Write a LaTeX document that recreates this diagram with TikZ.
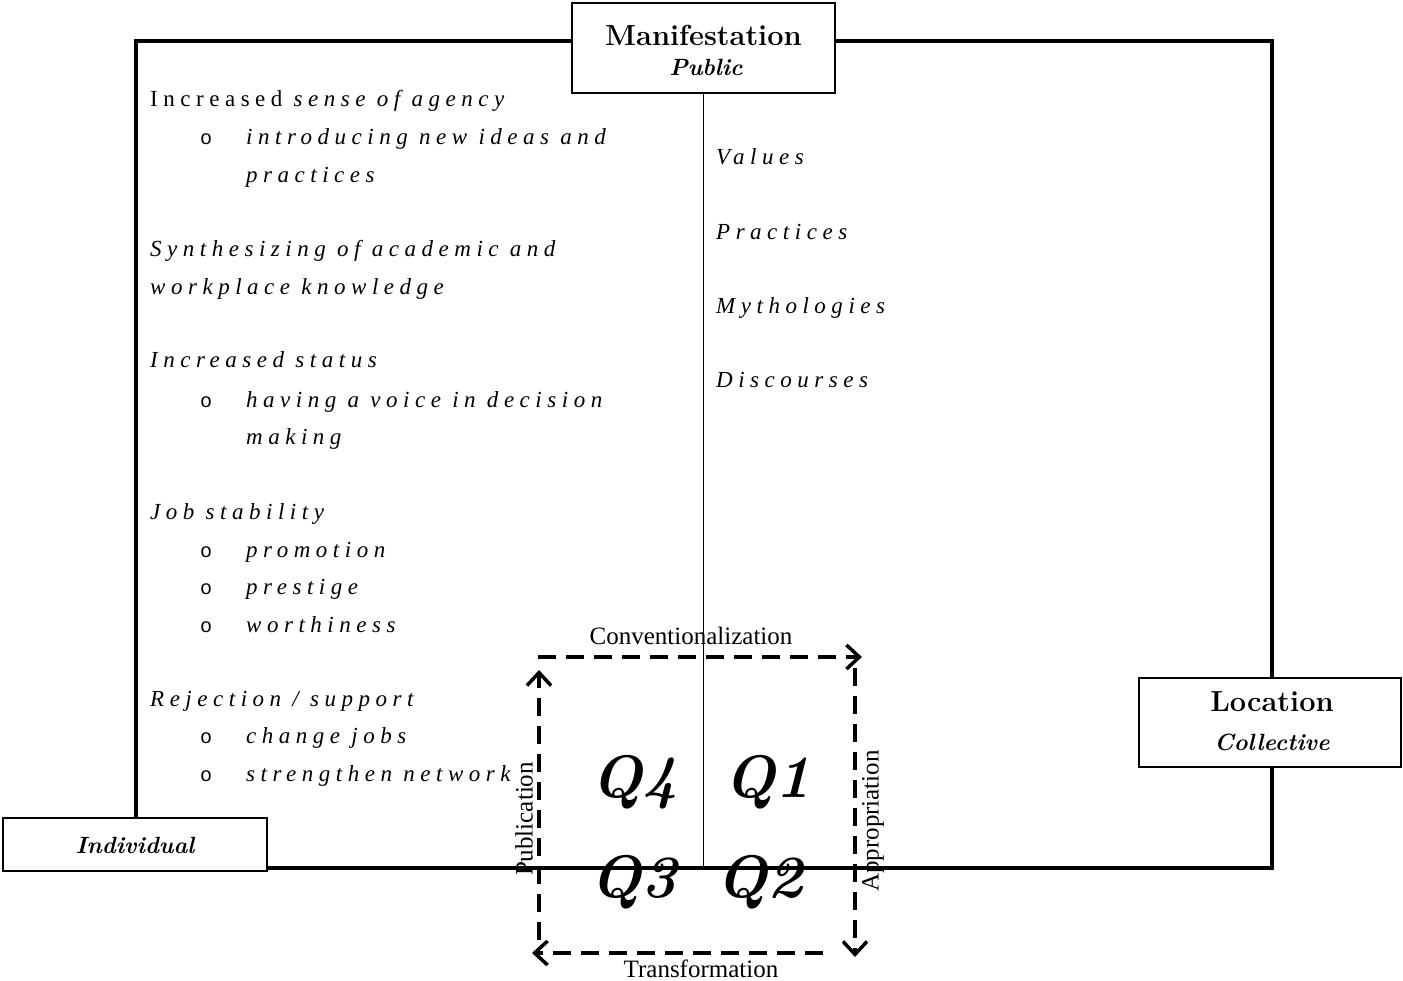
\documentclass[tikz,border=0pt]{standalone}
\usepackage{fontspec}
\newfontfamily\tnr[LetterSpace=24]{Liberation Serif}
\newfontfamily\lab{Liberation Serif}
\newfontfamily\bulletfont{Liberation Mono}
\usetikzlibrary{arrows.meta}
\tikzset{
 frame/.style={line width=3.5pt},
 box/.style={draw, line width=1.6pt, fill=white, inner sep=0pt},
 divider/.style={line width=1.8pt},
 flow/.style={line width=3.5pt, dash pattern=on 18pt off 10pt, -{Straight Barb[length=13pt,width=24pt]}},
 body/.style={anchor=base west, inner sep=0pt, font=\tnr\fontsize{23}{28}\selectfont},
 bul/.style={anchor=base west, inner sep=0pt, font=\bulletfont\fontsize{20}{24}\selectfont},
 head/.style={anchor=base, inner sep=0pt, font=\fontsize{29}{32}\selectfont\bfseries},
 sub/.style={anchor=base, inner sep=0pt, font=\fontsize{23.5}{26}\selectfont\bfseries\itshape},
 flowlabel/.style={inner sep=0pt, font=\lab\fontsize{25}{28}\selectfont},
 quad/.style={anchor=base, inner sep=0pt, font=\fontsize{60}{64}\selectfont\bfseries\itshape},
}
\begin{document}
\begin{tikzpicture}[x=1pt,y=-1pt]
\useasboundingbox (0,0) rectangle (1403,981);
% frame
\coordinate (tl) at (136,41);
\coordinate (br) at (1272,868);
\draw[frame] (tl) rectangle (br);
% boxes
\node[box, minimum width=263pt, minimum height=90pt] (man) at (703.5,48) {};
\node[box, minimum width=262pt, minimum height=89pt] (loc) at (1270,722.5) {};
\node[box, minimum width=264pt, minimum height=53pt] (ind) at (135,844.5) {};
\node[head] (manT) at (703.5,46) {Manifestation};
\node[sub] (pubT) at (706,76) {Public};
\node[head] (locT) at (1272,711) {Location};
\node[sub] (colT) at (1272,750) {Collective};
\node[sub] (indT) at (135,853) {Individual};
% divider
\draw[divider] (man.south) -- (man.south |- br);
% left column
\node[body] (t1) at (150,107) {Increased \textit{sense of agency}};
\node[bul] (b2) at (200,145) {o};
\node[body] (t2) at (246,145) {\itshape introducing new ideas and};
\node[body] (t3) at (246,183) {\itshape practices};
\node[body] (t4) at (150,257) {\itshape Synthesizing of academic and};
\node[body] (t5) at (150,295) {\itshape workplace knowledge};
\node[body] (t6) at (150,368) {\itshape Increased status};
\node[bul] (b7) at (200,407) {o};
\node[body] (t7) at (246,407) {\itshape having a voice in decision};
\node[body] (t8) at (246,444) {\itshape making};
\node[body] (t9) at (150,519) {\itshape Job stability};
\node[bul] (b10) at (200,557) {o};
\node[body] (t10) at (246,557) {\itshape promotion};
\node[bul] (b11) at (200,594) {o};
\node[body] (t11) at (246,594) {\itshape prestige};
\node[bul] (b12) at (200,632) {o};
\node[body] (t12) at (246,632) {\itshape worthiness};
\node[body] (t13) at (150,706) {\itshape Rejection / support};
\node[bul] (b14) at (200,743) {o};
\node[body] (t14) at (246,743) {\itshape change jobs};
\node[bul] (b15) at (200,781) {o};
\node[body] (t15) at (246,781) {\itshape strengthen network};
% right column
\node[body] (v1) at (716,165) {\itshape Values};
\node[body] (v2) at (716,240) {\itshape Practices};
\node[body] (v3) at (716,314) {\itshape Mythologies};
\node[body] (v4) at (716,388) {\itshape Discourses};
% dashed cycle
\coordinate (ct0) at (538,657); \coordinate (ct1) at (862,657);
\coordinate (cr0) at (855,668); \coordinate (cr1) at (855,957);
\coordinate (cb0) at (823,953); \coordinate (cb1) at (532,953);
\coordinate (cl0) at (539,940); \coordinate (cl1) at (539,670);
\draw[flow] (ct0) -- (ct1);
\draw[flow] (cr0) -- (cr1);
\draw[flow] (cb0) -- (cb1);
\draw[flow] (cl0) -- (cl1);
\node[flowlabel, anchor=base] (conv) at (691,644) {Conventionalization};
\node[flowlabel, anchor=base] (trans) at (701,977) {Transformation};
\node[flowlabel, rotate=90] (publ) at (524,819) {Publication};
\node[flowlabel, rotate=90] (appr) at (873,821) {Appropriation};
% quadrants
\node[quad] (q4) at (635,797) {Q4};
\node[quad] (q1) at (768,797) {Q1};
\node[quad] (q3) at (634,897) {Q3};
\node[quad] (q2) at (760,897) {Q2};
\end{tikzpicture}
\end{document}
